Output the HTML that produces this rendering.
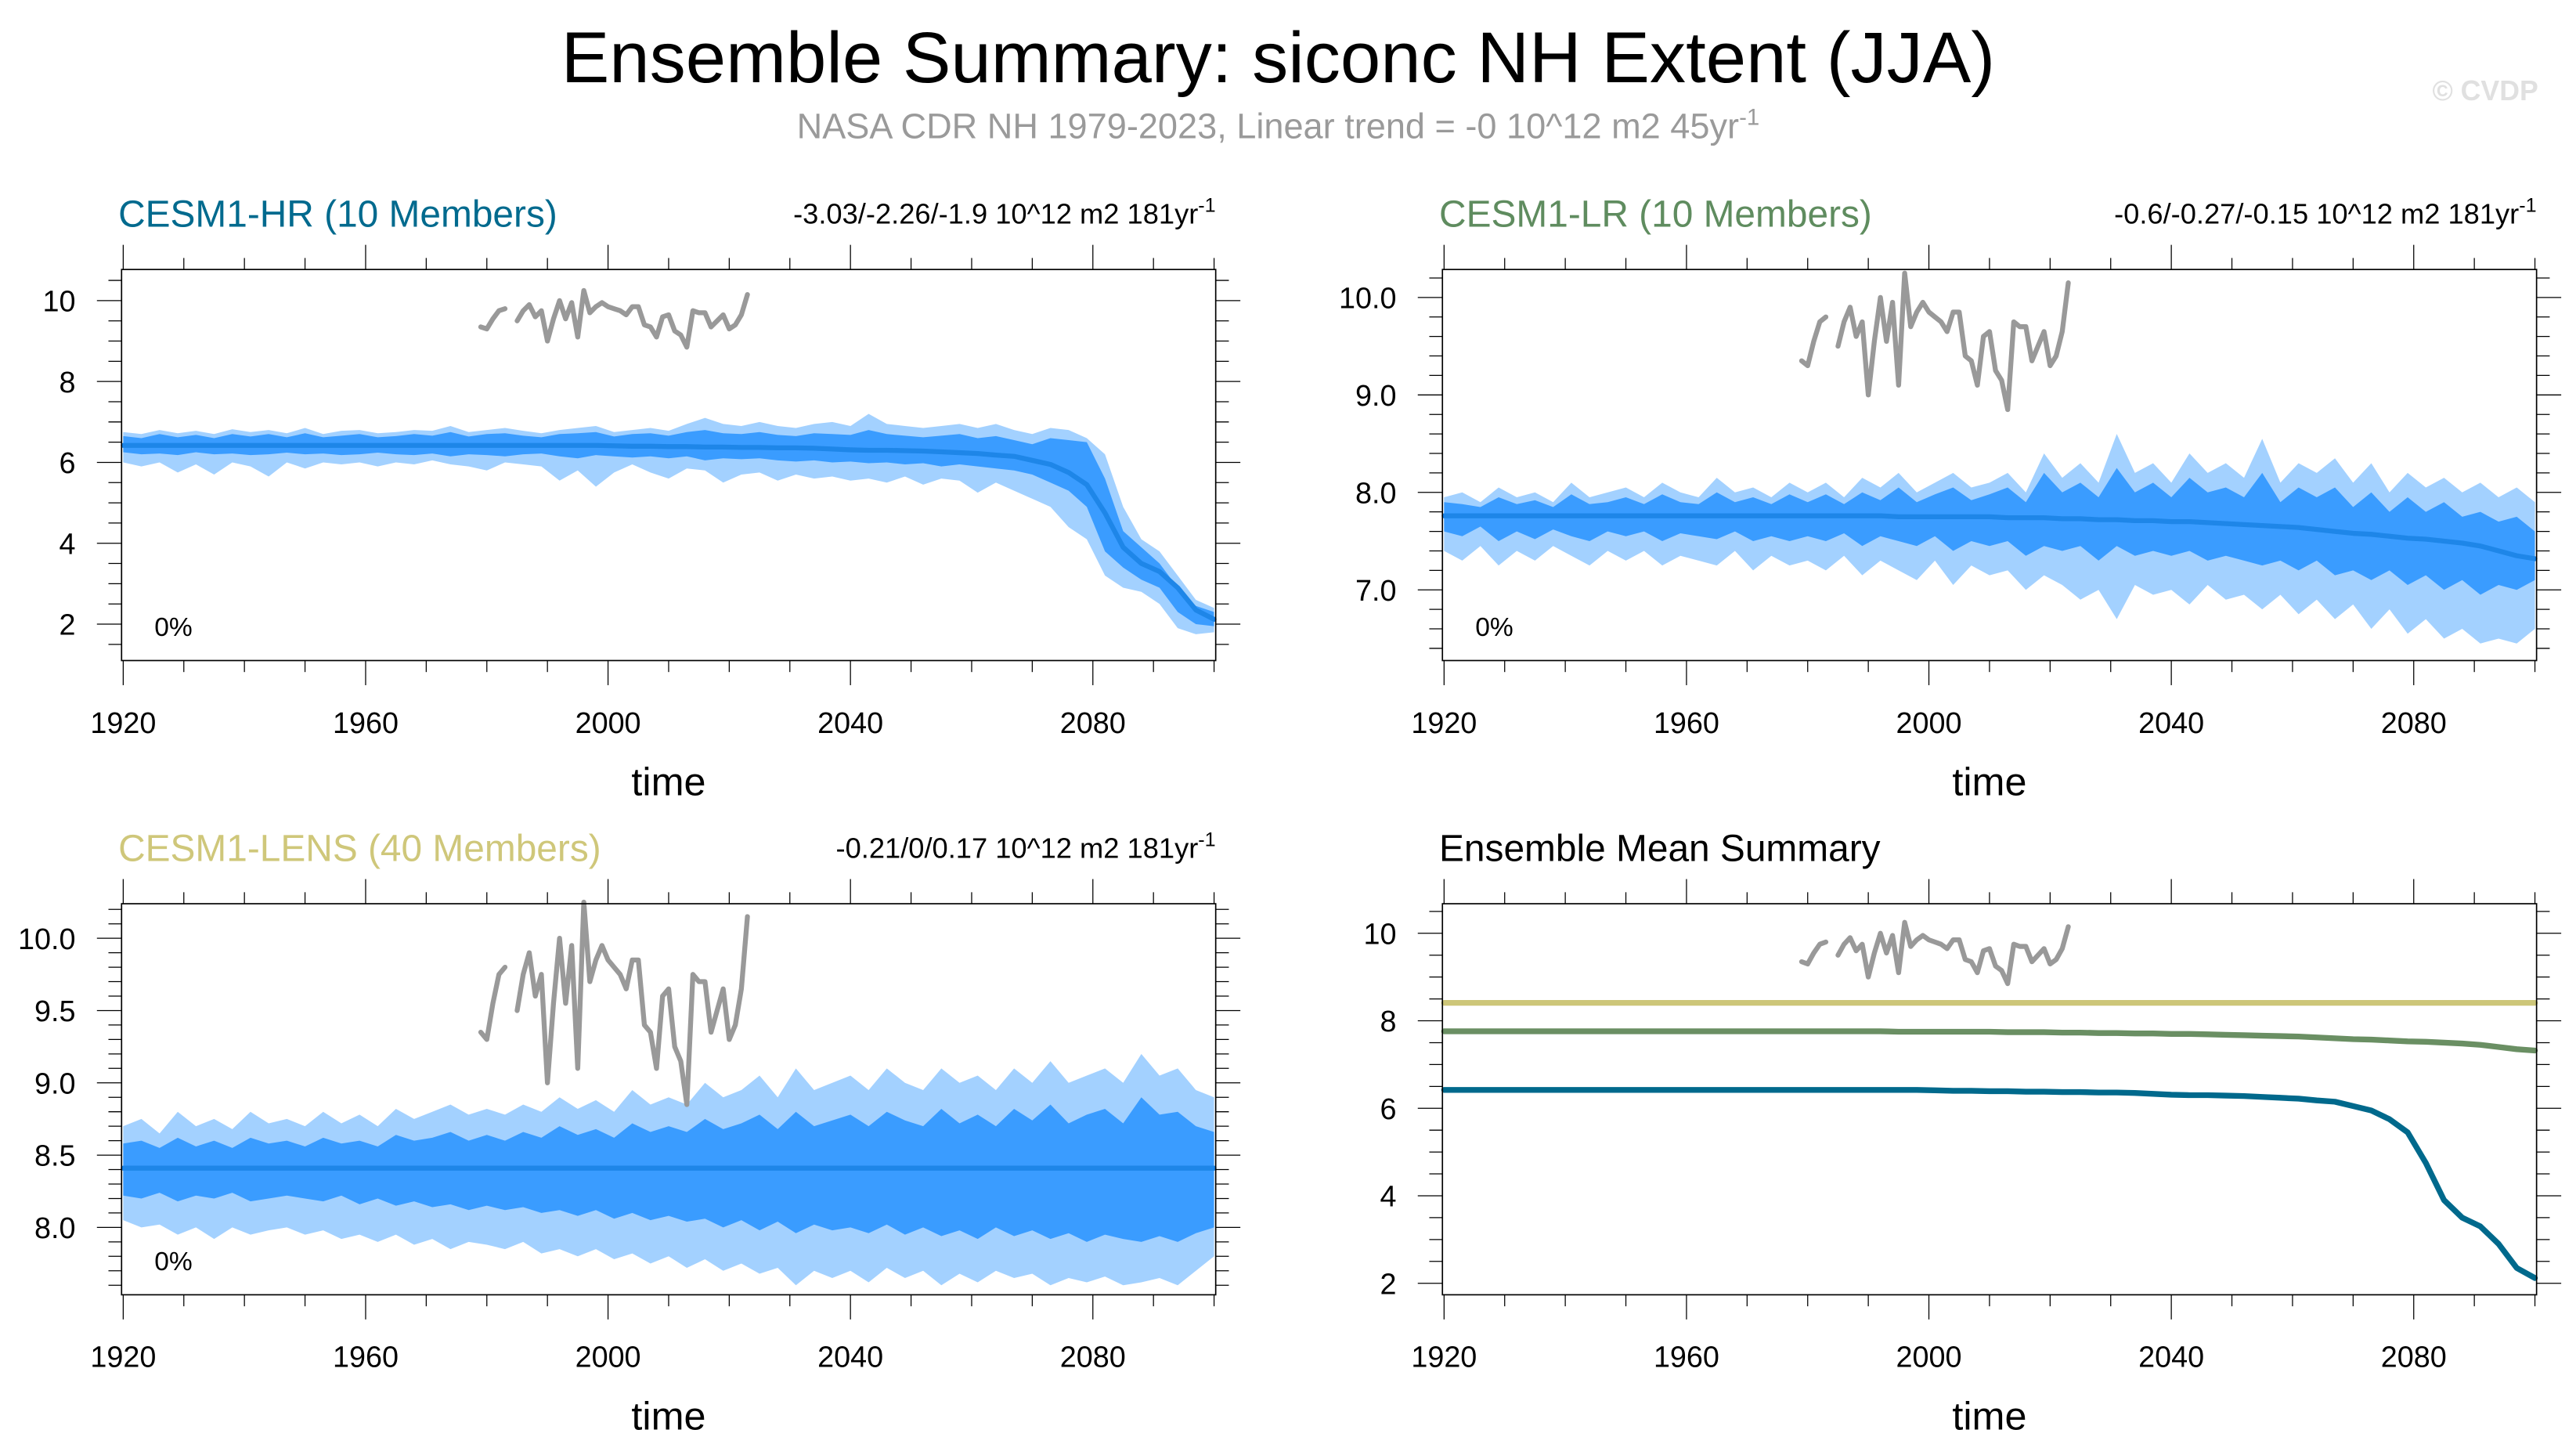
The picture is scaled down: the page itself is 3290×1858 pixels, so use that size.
<!DOCTYPE html>
<html><head><meta charset="utf-8"><style>
html,body{margin:0;padding:0;background:#fff;}
svg{display:block;font-family:"Liberation Sans",Arial,sans-serif;}
</style></head><body>
<svg id="chart" xmlns="http://www.w3.org/2000/svg" width="3290" height="1858" viewBox="0 0 1568 885.5">
<rect width="1568" height="885.5" fill="#fff"/>
<text x="778" y="50" font-size="44" text-anchor="middle" fill="#000">Ensemble Summary: siconc NH Extent (JJA)</text>
<text x="778" y="84" font-size="21.5" text-anchor="middle" fill="#9a9a9a">NASA CDR NH 1979-2023, Linear trend = -0 10^12 m2 45yr<tspan dy="-8" font-size="14">-1</tspan></text>
<text x="1545" y="61" font-size="17" text-anchor="end" fill="#e0e0e0" font-weight="bold">© CVDP</text>
<g id="plots"></g>
</svg>
<script>
const years=[1920,1923,1926,1929,1932,1935,1938,1941,1944,1947,1950,1953,1956,1959,1962,1965,1968,1971,1974,1977,1980,1983,1986,1989,1992,1995,1998,2001,2004,2007,2010,2013,2016,2019,2022,2025,2028,2031,2034,2037,2040,2043,2046,2049,2052,2055,2058,2061,2064,2067,2070,2073,2076,2079,2082,2085,2088,2091,2094,2097,2100];
const obsYears=[1979,1980,1981,1982,1983,1984,1985,1986,1987,1988,1989,1990,1991,1992,1993,1994,1995,1996,1997,1998,1999,2000,2001,2002,2003,2004,2005,2006,2007,2008,2009,2010,2011,2012,2013,2014,2015,2016,2017,2018,2019,2020,2021,2022,2023];
const obsValues=[9.35,9.3,9.55,9.75,9.8,null,9.5,9.75,9.9,9.6,9.75,9.0,9.55,10.0,9.55,9.95,9.1,10.25,9.7,9.85,9.95,9.85,9.8,9.75,9.65,9.85,9.85,9.4,9.35,9.1,9.6,9.65,9.25,9.15,8.85,9.75,9.7,9.7,9.35,9.5,9.65,9.3,9.4,9.65,10.15];

const hrMean=[6.42,6.42,6.42,6.42,6.42,6.42,6.42,6.42,6.42,6.42,6.42,6.42,6.42,6.42,6.42,6.42,6.42,6.42,6.42,6.42,6.42,6.42,6.42,6.42,6.42,6.42,6.42,6.41,6.40,6.40,6.39,6.39,6.38,6.38,6.37,6.37,6.36,6.36,6.35,6.33,6.31,6.30,6.30,6.29,6.28,6.26,6.24,6.22,6.18,6.15,6.05,5.95,5.75,5.45,4.75,3.9,3.5,3.3,2.9,2.35,2.12];
const hrOuterHi=[6.75,6.7,6.8,6.72,6.78,6.7,6.82,6.75,6.8,6.72,6.85,6.7,6.78,6.8,6.72,6.75,6.8,6.78,6.9,6.75,6.8,6.85,6.78,6.72,6.8,6.85,6.9,6.75,6.8,6.85,6.78,6.95,7.1,6.95,6.9,7.0,6.9,6.85,6.95,7.0,6.9,7.2,6.95,6.9,6.85,6.9,6.95,6.85,6.95,6.8,6.7,6.85,6.8,6.6,6.2,4.9,4.1,3.8,3.2,2.6,2.4];
const hrInnerHi=[6.65,6.6,6.7,6.62,6.68,6.6,6.7,6.64,6.7,6.62,6.72,6.62,6.66,6.7,6.62,6.65,6.7,6.66,6.75,6.64,6.7,6.72,6.66,6.62,6.7,6.72,6.75,6.64,6.7,6.72,6.66,6.75,6.8,6.72,6.7,6.75,6.68,6.65,6.72,6.7,6.68,6.8,6.7,6.66,6.62,6.66,6.7,6.6,6.65,6.55,6.45,6.6,6.55,6.5,5.6,4.3,3.9,3.5,2.9,2.45,2.3];
const hrInnerLo=[6.25,6.2,6.22,6.18,6.25,6.2,6.22,6.18,6.2,6.24,6.2,6.22,6.18,6.2,6.24,6.2,6.18,6.22,6.15,6.2,6.18,6.15,6.2,6.22,6.15,6.1,6.18,6.15,6.12,6.15,6.1,6.15,6.05,6.1,6.08,6.1,6.05,6.02,6.05,6.0,6.02,5.98,6.0,5.95,5.98,5.9,5.95,5.9,5.85,5.8,5.7,5.5,5.3,4.9,3.8,3.4,3.1,2.9,2.3,2.0,1.95];
const hrOuterLo=[6.0,5.9,6.0,5.75,5.95,5.7,6.0,5.9,5.65,6.0,5.85,6.0,5.95,6.0,5.9,6.0,5.95,6.05,5.95,5.9,5.8,6.0,5.95,5.9,5.55,5.8,5.4,5.75,5.95,5.75,5.6,5.85,5.8,5.5,5.7,5.75,5.55,5.7,5.6,5.65,5.55,5.6,5.5,5.65,5.45,5.6,5.55,5.25,5.5,5.3,5.1,4.9,4.4,4.1,3.2,2.9,2.8,2.5,1.9,1.75,1.8];

const lrMean=[7.76,7.76,7.76,7.76,7.76,7.76,7.76,7.76,7.76,7.76,7.76,7.76,7.76,7.76,7.76,7.76,7.76,7.76,7.76,7.76,7.76,7.76,7.76,7.76,7.76,7.75,7.75,7.75,7.75,7.75,7.75,7.74,7.74,7.74,7.73,7.73,7.72,7.72,7.71,7.71,7.7,7.7,7.69,7.68,7.67,7.66,7.65,7.64,7.62,7.6,7.58,7.57,7.55,7.53,7.52,7.5,7.48,7.45,7.4,7.35,7.32];
const lrOuterHi=[7.95,8.0,7.9,8.05,7.95,8.0,7.9,8.1,7.95,8.0,8.05,7.95,8.1,8.0,7.95,8.15,8.0,8.05,7.95,8.1,8.0,8.1,7.95,8.15,8.05,8.2,8.0,8.1,8.2,8.05,8.1,8.2,8.0,8.4,8.15,8.3,8.1,8.6,8.2,8.3,8.1,8.4,8.2,8.3,8.15,8.55,8.1,8.3,8.2,8.35,8.1,8.3,8.0,8.2,8.05,8.15,8.0,8.1,7.95,8.05,7.9];
const lrInnerHi=[7.9,7.88,7.85,7.95,7.88,7.92,7.85,7.98,7.88,7.9,7.95,7.88,7.98,7.9,7.88,8.0,7.9,7.95,7.88,7.98,7.9,7.98,7.88,8.0,7.92,8.05,7.9,7.98,8.05,7.92,7.98,8.05,7.9,8.2,8.0,8.1,7.95,8.25,8.0,8.1,7.95,8.15,8.0,8.05,7.95,8.2,7.9,8.05,7.95,8.05,7.85,8.0,7.8,7.95,7.8,7.9,7.75,7.8,7.7,7.75,7.6];
const lrInnerLo=[7.6,7.55,7.65,7.5,7.6,7.52,7.62,7.55,7.5,7.6,7.55,7.6,7.5,7.58,7.55,7.52,7.6,7.5,7.55,7.5,7.55,7.5,7.58,7.45,7.55,7.5,7.45,7.55,7.4,7.5,7.45,7.5,7.35,7.45,7.4,7.45,7.3,7.45,7.35,7.4,7.35,7.4,7.3,7.35,7.3,7.25,7.3,7.2,7.3,7.15,7.2,7.1,7.2,7.05,7.15,7.0,7.1,6.95,7.05,7.0,7.1];
const lrOuterLo=[7.4,7.3,7.45,7.25,7.4,7.3,7.45,7.35,7.25,7.4,7.3,7.4,7.25,7.35,7.3,7.25,7.4,7.2,7.35,7.25,7.3,7.2,7.35,7.15,7.3,7.2,7.1,7.3,7.05,7.25,7.15,7.2,7.0,7.15,7.05,6.9,7.0,6.7,7.05,6.95,7.0,6.85,7.05,6.9,6.95,6.8,6.95,6.75,6.9,6.7,6.85,6.6,6.8,6.55,6.7,6.5,6.6,6.45,6.5,6.45,6.6];

const lensMean=[8.41,8.41,8.41,8.41,8.41,8.41,8.41,8.41,8.41,8.41,8.41,8.41,8.41,8.41,8.41,8.41,8.41,8.41,8.41,8.41,8.41,8.41,8.41,8.41,8.41,8.41,8.41,8.41,8.41,8.41,8.41,8.41,8.41,8.41,8.41,8.41,8.41,8.41,8.41,8.41,8.41,8.41,8.41,8.41,8.41,8.41,8.41,8.41,8.41,8.41,8.41,8.41,8.41,8.41,8.41,8.41,8.41,8.41,8.41,8.41,8.41];
const lensOuterHi=[8.7,8.75,8.65,8.8,8.7,8.75,8.68,8.8,8.72,8.75,8.7,8.8,8.72,8.78,8.7,8.82,8.75,8.8,8.85,8.78,8.82,8.78,8.85,8.8,8.9,8.82,8.88,8.8,8.95,8.85,8.9,8.85,9.0,8.9,8.95,9.05,8.9,9.1,8.95,9.0,9.05,8.95,9.1,9.0,8.95,9.1,9.0,9.05,8.95,9.1,9.0,9.15,9.0,9.05,9.1,9.0,9.2,9.05,9.1,8.95,8.9];
const lensInnerHi=[8.58,8.6,8.55,8.62,8.56,8.6,8.55,8.62,8.58,8.6,8.56,8.62,8.58,8.6,8.56,8.64,8.6,8.62,8.66,8.6,8.64,8.6,8.66,8.62,8.7,8.64,8.68,8.62,8.72,8.66,8.7,8.66,8.75,8.68,8.72,8.78,8.68,8.8,8.7,8.74,8.78,8.7,8.8,8.74,8.7,8.82,8.72,8.78,8.7,8.82,8.74,8.85,8.72,8.78,8.82,8.72,8.9,8.78,8.8,8.7,8.66];
const lensInnerLo=[8.22,8.2,8.24,8.18,8.22,8.2,8.24,8.18,8.2,8.22,8.2,8.18,8.22,8.16,8.2,8.15,8.18,8.14,8.16,8.12,8.15,8.12,8.14,8.1,8.12,8.08,8.12,8.06,8.1,8.05,8.08,8.04,8.06,8.0,8.05,7.98,8.04,7.96,8.02,7.98,8.0,7.96,8.02,7.95,8.0,7.94,7.98,7.92,8.0,7.94,7.98,7.92,7.96,7.9,7.95,7.92,7.9,7.94,7.9,7.96,8.0];
const lensOuterLo=[8.05,8.0,8.02,7.95,8.0,7.92,8.0,7.95,7.98,8.0,7.95,7.98,7.92,7.95,7.9,7.95,7.88,7.92,7.85,7.9,7.88,7.85,7.9,7.82,7.85,7.8,7.85,7.78,7.82,7.75,7.8,7.72,7.78,7.7,7.75,7.68,7.72,7.6,7.7,7.65,7.7,7.62,7.72,7.65,7.7,7.6,7.68,7.62,7.7,7.65,7.68,7.6,7.65,7.62,7.66,7.6,7.62,7.65,7.6,7.7,7.8];

const NS="http://www.w3.org/2000/svg";
const root=document.getElementById('plots');
function mk(tag,attrs,parent){const e=document.createElementNS(NS,tag);for(const k in attrs)e.setAttribute(k,attrs[k]);(parent||root).appendChild(e);return e;}

function drawPanel(p){
  const g=mk('g',{});
  
  
  const xs=yr=>p.x0+1+(yr-1920)*(p.x1-p.x0-2)/180;
  const ys=v=>p.y1-(v-p.ymin)*(p.y1-p.y0)/(p.ymax-p.ymin);
  function band(hi,lo,color,nm){
    let d='';
    years.forEach((yr,i)=>{d+=(i?'L':'M')+xs(yr).toFixed(2)+','+ys(hi[i]).toFixed(2);});
    for(let i=years.length-1;i>=0;i--)d+='L'+xs(years[i]).toFixed(2)+','+ys(lo[i]).toFixed(2);
    const e=mk('path',{d:d+'Z',fill:color},g);
    
    
  }
  function line(xv,yv,color,w,nm){
    let d='',pen=false;
    xv.forEach((yr,i)=>{const v=yv[i];if(v===null){pen=false;return;}d+=(pen?'L':'M')+xs(yr).toFixed(2)+','+ys(v).toFixed(2);pen=true;});
    const e=mk('path',{d:d,fill:'none',stroke:color,'stroke-width':w,'stroke-linejoin':'round','stroke-linecap':'round'},g);
    
    
  }
  if(p.bands){
    band(p.bands.oh,p.bands.ol,'#a3d1ff','outer-spread-band');
    band(p.bands.ih,p.bands.il,'#3a9cff','inner-spread-band');
    line(years,p.bands.mean,'#1e86e8',3,'ensemble-mean-line');
  }
  if(p.lines){p.lines.forEach(l=>line(years,l.v,l.c,3.5,l.n));}
  line(obsYears,obsValues,'#999999',3,'observed-line');
  const fr=mk('rect',{x:p.x0,y:p.y0,width:p.x1-p.x0,height:p.y1-p.y0,fill:'none',stroke:'#000','stroke-width':0.8},g);
  
  
  for(let yr=1920;yr<=2100;yr+=10){
    const x=xs(yr),maj=(yr-1920)%40===0,L=maj?15:7;
    mk('line',{x1:x,x2:x,y1:p.y0,y2:p.y0-L,stroke:'#000','stroke-width':0.6},g);
    mk('line',{x1:x,x2:x,y1:p.y1,y2:p.y1+L,stroke:'#000','stroke-width':0.6},g);
    if(maj&&yr<2100){const t=mk('text',{x:x,y:p.y1+44,'font-size':18,'text-anchor':'middle'},g);t.textContent=yr;
      
      }
  }
  const start=Math.ceil(p.ymin/p.minor-1e-6);
  for(let k=start;k*p.minor<=p.ymax+1e-6;k++){
    const v=k*p.minor,y=ys(v);
    const maj=Math.abs(v/p.major-Math.round(v/p.major))<1e-6,L=maj?15:8;
    mk('line',{x1:p.x0,x2:p.x0-L,y1:y,y2:y,stroke:'#000','stroke-width':0.6},g);
    mk('line',{x1:p.x1,x2:p.x1+L,y1:y,y2:y,stroke:'#000','stroke-width':0.6},g);
    if(maj){const t=mk('text',{x:p.x0-28,y:y+6.5,'font-size':18,'text-anchor':'end'},g);t.textContent=v.toFixed(p.dec);
      
      }
  }
  const tt=mk('text',{x:(p.x0+p.x1)/2,y:p.y1+82,'font-size':24,'text-anchor':'middle'},g);tt.textContent='time';
  
  
  const ti=mk('text',{x:p.x0-2,y:p.y0-26,'font-size':22.8,fill:p.tcolor},g);ti.textContent=p.title;
  
  
  if(p.trend){const tr=mk('text',{x:p.x1,y:p.y0-28,'font-size':17.3,'text-anchor':'end'},g);
    tr.innerHTML=p.trend+'<tspan dy="-7" font-size="12">-1</tspan>';
    
    }
  if(p.pct){const pc=mk('text',{x:p.x0+20,y:p.y1-15,'font-size':16},g);pc.textContent='0%';
    
    }
}

drawPanel({name:'panel-cesm1-hr',x0:74,x1:740,y0:164,y1:402,ymin:1.10,ymax:10.77,major:2,minor:0.5,dec:0,
  title:'CESM1-HR (10 Members)',tcolor:'#006a8e',trend:'-3.03/-2.26/-1.9 10^12 m2 181yr',pct:true,
  bands:{mean:hrMean,oh:hrOuterHi,ih:hrInnerHi,il:hrInnerLo,ol:hrOuterLo}});
drawPanel({name:'panel-cesm1-lr',x0:878,x1:1544,y0:164,y1:402,ymin:6.275,ymax:10.287,major:1,minor:0.2,dec:1,
  title:'CESM1-LR (10 Members)',tcolor:'#5f8c5f',trend:'-0.6/-0.27/-0.15 10^12 m2 181yr',pct:true,
  bands:{mean:lrMean,oh:lrOuterHi,ih:lrInnerHi,il:lrInnerLo,ol:lrOuterLo}});
drawPanel({name:'panel-cesm1-lens',x0:74,x1:740,y0:550,y1:788,ymin:7.534,ymax:10.239,major:0.5,minor:0.1,dec:1,
  title:'CESM1-LENS (40 Members)',tcolor:'#cfc77a',trend:'-0.21/0/0.17 10^12 m2 181yr',pct:true,
  bands:{mean:lensMean,oh:lensOuterHi,ih:lensInnerHi,il:lensInnerLo,ol:lensOuterLo}});
drawPanel({name:'panel-ensemble-mean-summary',x0:878,x1:1544,y0:550,y1:788,ymin:1.737,ymax:10.676,major:2,minor:0.5,dec:0,
  title:'Ensemble Mean Summary',tcolor:'#000',trend:null,pct:false,
  lines:[{v:lensMean,c:'#cdc679',n:'lens-mean-line'},{v:lrMean,c:'#6a8f63',n:'lr-mean-line'},{v:hrMean,c:'#00698c',n:'hr-mean-line'}]});
</script>
</body></html>
